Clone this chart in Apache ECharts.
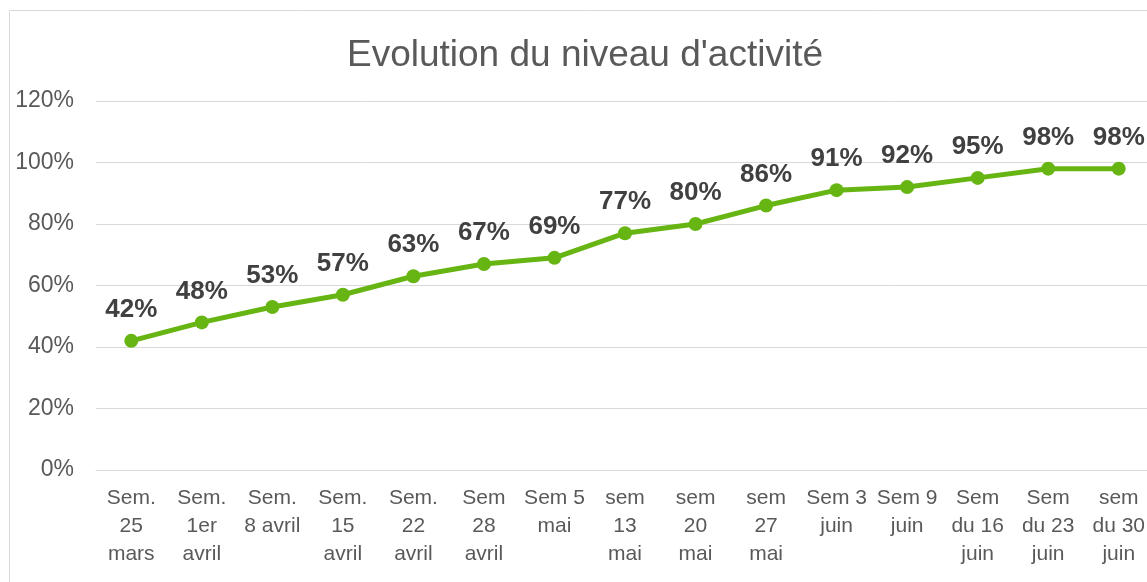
<!DOCTYPE html>
<html lang="fr">
<head>
    <meta charset="UTF-8">
    <title>Evolution du niveau d'activité</title>
    <script type="text/javascript" src="https://cdn.jsdelivr.net/npm/echarts@6/dist/echarts.min.js"></script>
    <style>
        html, body { margin: 0; padding: 0; background: #fff; overflow: hidden; }
        /* le graphique d'origine est coupé à droite : on le fait déborder un peu */
        #chart { width: 1160px; height: 582px; }
    </style>
</head>
<body>
<div id="chart"></div>
<script type="text/javascript">

    var titre = "Evolution du niveau d'activité";
    var semaines = [
        'Sem.\n25\nmars', 'Sem.\n1er\navril', 'Sem.\n8 avril', 'Sem.\n15\navril', 'Sem.\n22\navril',
        'Sem\n28\navril', 'Sem 5\nmai', 'sem\n13\nmai', 'sem\n20\nmai', 'sem\n27\nmai',
        'Sem 3\njuin', 'Sem 9\njuin', 'Sem\ndu 16\njuin', 'Sem\ndu 23\njuin', 'sem\ndu 30\njuin'
    ];
    var activite = [42, 48, 53, 57, 63, 67, 69, 77, 80, 86, 91, 92, 95, 98, 98];
    var axeY = { min: 0, max: 120, pas: 20 };

    var police = 'Liberation Sans, Arial, sans-serif';
    var myChart = echarts.init(document.getElementById('chart'));

    var option = {
        animation: false,
        title: {
            text: titre,
            left: 580,
            top: 32,
            textAlign: 'center',
            textStyle: { fontFamily: police, fontSize: 37, fontWeight: 'normal', color: '#595959' }
        },
        graphic: [{
            type: 'rect',
            shape: { x: 9.5, y: 10.5, width: 1300, height: 700 },
            style: { fill: 'none', stroke: '#d9d9d9', lineWidth: 1 },
            silent: true
        }],
        grid: { left: 96, right: 6, top: 101, bottom: 112, containLabel: false },
        xAxis: {
            type: 'category',
            data: semaines,
            boundaryGap: true,
            axisLine: { show: true, lineStyle: { color: '#d9d9d9', width: 1 } },
            axisTick: { show: false },
            axisLabel: {
                interval: 0,
                margin: 14,
                fontFamily: police,
                fontSize: 21,
                lineHeight: 28,
                color: '#595959',
                align: 'center'
            }
        },
        yAxis: {
            type: 'value',
            min: axeY.min,
            max: axeY.max,
            interval: axeY.pas,
            axisLine: { show: false },
            axisTick: { show: false },
            splitLine: { lineStyle: { color: '#d9d9d9', width: 1 } },
            axisLabel: {
                formatter: '{value}%',
                margin: 22,
                fontFamily: police,
                fontSize: 23,
                color: '#595959'
            }
        },
        series: [{
            type: 'line',
            data: activite,
            symbol: 'circle',
            symbolSize: 14,
            lineStyle: { color: '#67b512', width: 5 },
            itemStyle: { color: '#67b512' },
            label: {
                show: true,
                position: 'top',
                distance: 11,
                formatter: '{c}%',
                fontFamily: police,
                fontSize: 26,
                fontWeight: 'bold',
                color: '#404040'
            }
        }]
    };

    myChart.setOption(option);

</script>
</body>
</html>
